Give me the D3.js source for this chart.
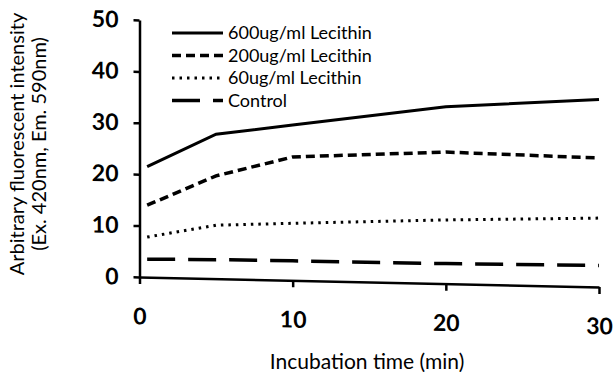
<!DOCTYPE html>
<html>
<head>
<meta charset="utf-8">
<script src="https://cdn.jsdelivr.net/npm/d3@7"></script>
<style>
  body { margin: 0; background: #fff; }
  text { font-family: Lato, "Open Sans", sans-serif; fill: #000; }
</style>
</head>
<body>
<div id="chart"></div>
<script>
// Fluorescence vs incubation time, four lecithin levels
const times = [0.5, 5, 10, 20, 30];
const lec600 = [21.5, 28.1, 30.2, 34.4, 36.5];
const lec200 = [14.0, 20.0, 24.0, 25.6, 25.1];
const lec60 = [7.8, 10.4, 11.1, 12.4, 13.4];
const control = [3.5, 3.7, 3.8, 3.9, 4.2];
const seriesNames = ["600ug/ml Lecithin", "200ug/ml Lecithin", "60ug/ml Lecithin", "Control"];
const xTicks = [0, 10, 20, 30];
const yTicks = [0, 10, 20, 30, 40, 50];

const width = 613, height = 372;
const left = 139.5, plotW = 459.5;
// scanned original is slightly sheared downward to the right
const shear = Math.atan(10 / 460) * 180 / Math.PI;

const svg = d3.select("#chart")
  .append("svg")
  .attr("width", width)
  .attr("height", height);

const g = svg.append("g")
  .attr("transform", `translate(${left},0) skewY(${shear})`);

const x = d3.scaleLinear().domain([0, 30]).range([0, plotW]);
const y = d3.scaleLinear().domain([0, 50]).range([277, 20]);

const styles = [
  { dash: null, w: 3 },
  { dash: "9,5", w: 3.5 },
  { dash: "2.5,5", w: 3 },
  { dash: "28,13", w: 3.5 }
];
const allSeries = [lec600, lec200, lec60, control];

const xAxis = g.append("g")
  .attr("transform", `translate(0,${y(0)})`)
  .call(d3.axisBottom(x).tickValues(xTicks).tickSize(7).tickSizeOuter(0).tickPadding(24));
xAxis.selectAll("text").style("font-size", "23px").style("font-weight", "bold");

const yAxis = g.append("g")
  .call(d3.axisLeft(y).tickValues(yTicks).tickSize(6).tickSizeOuter(0).tickPadding(15));
yAxis.selectAll("text").style("font-size", "23px").style("font-weight", "bold");

g.selectAll(".domain, .tick line").attr("stroke", "#000").attr("stroke-width", 2.5);

const line = d3.line()
  .x((d, i) => x(times[i]))
  .y(d => y(d));

allSeries.forEach((s, i) => {
  g.append("path")
    .datum(s)
    .attr("fill", "none")
    .attr("stroke", "#000")
    .attr("stroke-width", styles[i].w)
    .attr("stroke-dasharray", styles[i].dash)
    .attr("d", line);
});

// legend
const legend = svg.append("g").attr("transform", "translate(172,33)");
seriesNames.forEach((name, i) => {
  const row = legend.append("g").attr("transform", `translate(0,${i * 22.5})`);
  row.append("line")
    .attr("x1", 0).attr("x2", 51)
    .attr("stroke", "#000")
    .attr("stroke-width", styles[i].w)
    .attr("stroke-dasharray", styles[i].dash);
  row.append("text")
    .attr("x", 56)
    .attr("dy", "0.35em")
    .style("font-size", "18px")
    .text(name);
});

// axis titles
svg.append("text")
  .attr("x", 367)
  .attr("y", 362)
  .attr("dy", "0.35em")
  .attr("text-anchor", "middle")
  .style("font-size", "21px")
  .text("Incubation time (min)");

const yTitle = svg.append("text")
  .attr("transform", "translate(0,144) rotate(-90)")
  .attr("text-anchor", "middle")
  .style("font-size", "20px");
yTitle.append("tspan").attr("x", 0).attr("y", 24).text("Arbitrary fluorescent intensity");
yTitle.append("tspan").attr("x", 0).attr("y", 46).text("(Ex. 420nm, Em. 590nm)");
</script>
</body>
</html>
